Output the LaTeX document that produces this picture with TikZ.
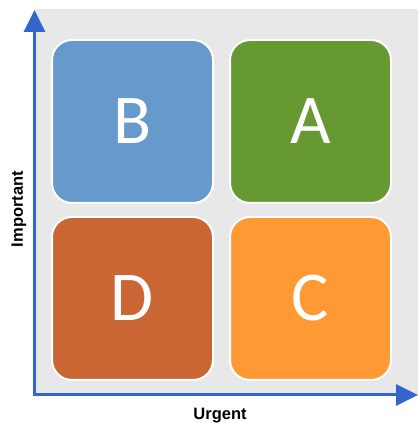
\documentclass[tikz,border=0pt]{standalone}
\usepackage{fontspec}
\setmainfont{Carlito}
\newfontfamily\labelfont{Liberation Sans}
\usetikzlibrary{arrows.meta}

\begin{document}
\begin{tikzpicture}[x=1pt,y=1pt]
\colorlet{axisblue}{rgb,255:red,51;green,102;blue,204}
\colorlet{plane}{rgb,255:red,232;green,232;blue,232}
\colorlet{quadB}{rgb,255:red,102;green,153;blue,204}
\colorlet{quadA}{rgb,255:red,103;green,153;blue,51}
\colorlet{quadD}{rgb,255:red,202;green,102;blue,51}
\colorlet{quadC}{rgb,255:red,255;green,153;blue,51}
\def\quadwidth{161}
\def\quadheight{163}
\tikzset{
  quadrant/.style={draw=white,line width=2pt,rounded corners=20pt,
    minimum width=\quadwidth pt,minimum height=\quadheight pt,inner sep=0pt,
    text=white,font=\fontsize{70}{70}\selectfont},
  axis/.style={axisblue,line width=3pt,-{Triangle[length=22pt,width=21pt]}},
  axislabel/.style={font=\labelfont\bfseries\fontsize{16.5}{18}\selectfont}
}
\useasboundingbox (0,0) rectangle (418,423);

% grey plane
\fill[plane] (35,28) rectangle (418,414);

% Quadrants
\node[quadrant,fill=quadB] (B) at (132.5,301.5) {B};
\node[quadrant,fill=quadA] (A) at (310.5,301.5) {A};
\node[quadrant,fill=quadD] (D) at (132.5,124.5) {D};
\node[quadrant,fill=quadC] (C) at (310.5,124.5) {C};

% Axes
\coordinate (origin) at (34.5,28);
\coordinate (ytip) at (34.5,413);
\coordinate (xtip) at (418,28);
\draw[axis] ([xshift=-1.5pt]origin) -- (xtip);
\draw[axis] ([yshift=-1.5pt]origin) -- (ytip);
\node[axislabel] (urgent) at (220,7) {Urgent};
\node[axislabel,rotate=90] (important) at (19,214) {Important};
\end{tikzpicture}
\end{document}
